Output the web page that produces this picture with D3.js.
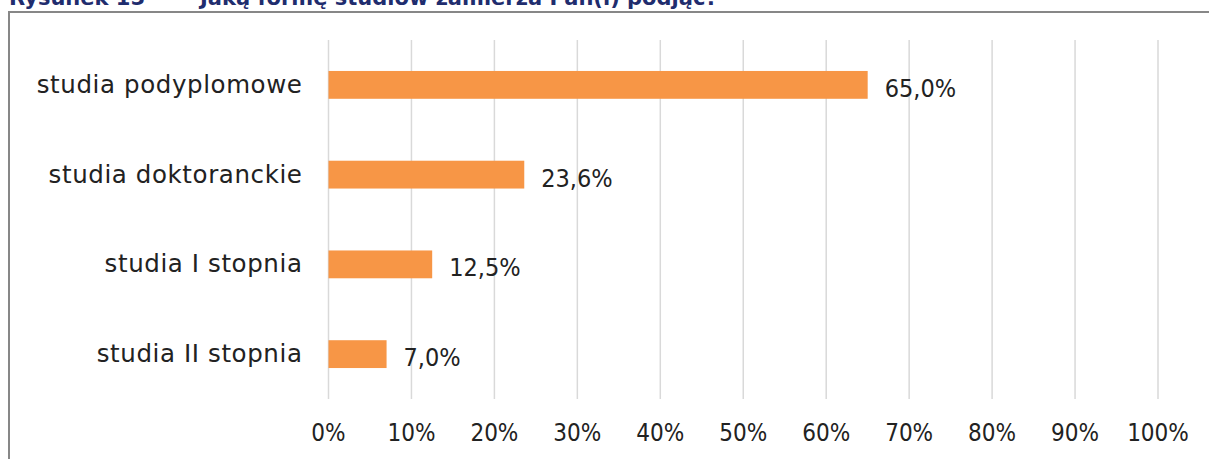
<!DOCTYPE html>
<html lang="pl">
<head>
<meta charset="utf-8">
<script src="https://cdn.jsdelivr.net/npm/d3@7"></script>
<style>
    html, body { margin: 0; padding: 0; background: #fff; overflow: hidden; }
    svg { display: block; font-family: "DejaVu Sans", sans-serif; }
</style>
</head>
<body>
<div id="chart"></div>
<script>
// data
const categories = ['studia podyplomowe', 'studia doktoranckie', 'studia I stopnia', 'studia II stopnia'];
const shares = [65.0, 23.6, 12.5, 7.0];
const tickValues = [0, 10, 20, 30, 40, 50, 60, 70, 80, 90, 100];
const titleNumber = 'Rysunek 15';
const titleText = 'Jaką formę studiów zamierza Pan(i) podjąć?';

const WIDTH = 1209, HEIGHT = 459;
const PLOT = { left: 328.5, right: 1158, top: 40, bottom: 399 };
const BAR_FILL = '#f79646';
const GRID = '#d9d9d9';
const TEXT = '#222222';
const NUM_FONT = '"DejaVu Sans Condensed", "DejaVu Sans", sans-serif';

const plLocale = d3.formatLocale({ decimal: ',', thousands: ' ', grouping: [3], currency: ['', ' zł'] });
const fmtValue = plLocale.format('.1f');

const rows = categories.map((name, i) => ({ name: name, value: shares[i] }));

const svg = d3.select('#chart').append('svg')
    .attr('width', WIDTH)
    .attr('height', HEIGHT)
    .attr('viewBox', [0, 0, WIDTH, HEIGHT]);

// title, mostly cut off at the top edge as in the source
const title = svg.append('text')
    .attr('y', 5)
    .attr('fill', '#1f2d6e')
    .attr('font-weight', 'bold')
    .attr('font-size', 21);
title.append('tspan').attr('x', 9).text(titleNumber);
title.append('tspan').attr('x', 200).text(titleText);

// chart frame (only top and left edges visible)
svg.append('rect')
    .attr('x', 9)
    .attr('y', 12)
    .attr('width', WIDTH + 50)
    .attr('height', HEIGHT + 50)
    .attr('fill', 'none')
    .attr('stroke', '#878787')
    .attr('stroke-width', 2);

const x = d3.scaleLinear()
    .domain([0, 100])
    .range([PLOT.left, PLOT.right]);

const y = d3.scaleBand()
    .domain(categories)
    .range([PLOT.top, PLOT.bottom])
    .paddingInner(0.69)
    .paddingOuter(0.345);

// vertical gridlines
svg.append('g')
    .attr('stroke', GRID)
    .attr('stroke-width', 1.5)
    .selectAll('line')
    .data(tickValues)
    .join('line')
    .attr('x1', d => x(d))
    .attr('x2', d => x(d))
    .attr('y1', PLOT.top)
    .attr('y2', PLOT.bottom);

// x tick labels
svg.append('g')
    .attr('font-family', NUM_FONT)
    .attr('font-size', 24)
    .attr('fill', TEXT)
    .attr('text-anchor', 'middle')
    .selectAll('text')
    .data(tickValues)
    .join('text')
    .attr('x', d => x(d))
    .attr('y', 441)
    .text(d => d + '%');

// bars
svg.append('g')
    .selectAll('rect')
    .data(rows)
    .join('rect')
    .attr('x', x(0))
    .attr('y', d => y(d.name))
    .attr('width', d => x(d.value) - x(0))
    .attr('height', y.bandwidth())
    .attr('fill', BAR_FILL);

// category labels
svg.append('g')
    .attr('font-size', 24.5)
    .attr('letter-spacing', 0.6)
    .attr('fill', TEXT)
    .attr('text-anchor', 'end')
    .selectAll('text')
    .data(rows)
    .join('text')
    .attr('x', PLOT.left - 26)
    .attr('y', d => y(d.name) + y.bandwidth() / 2 + 8)
    .text(d => d.name);

// value labels
svg.append('g')
    .attr('font-family', NUM_FONT)
    .attr('font-size', 25)
    .attr('fill', TEXT)
    .selectAll('text')
    .data(rows)
    .join('text')
    .attr('x', d => x(d.value) + 17)
    .attr('y', d => y(d.name) + y.bandwidth() / 2 + 12)
    .text(d => fmtValue(d.value) + '%');
</script>
</body>
</html>
